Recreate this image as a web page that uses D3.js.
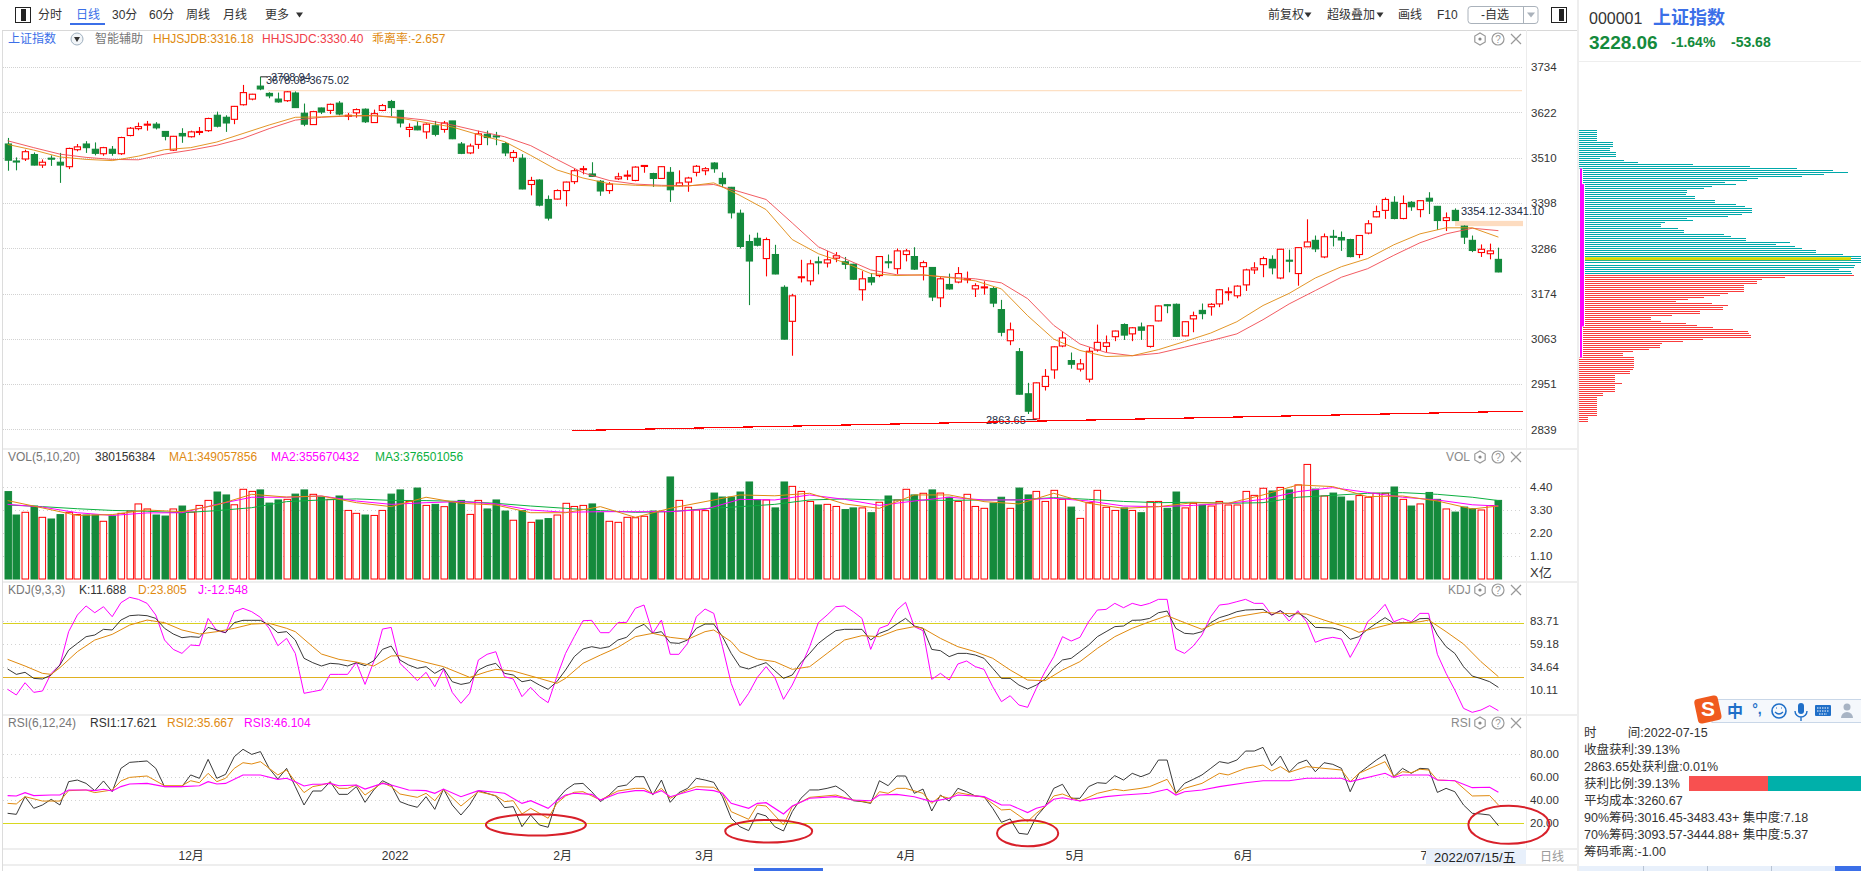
<!DOCTYPE html>
<html><head><meta charset="utf-8">
<script src="https://cdn.jsdelivr.net/npm/d3@7/dist/d3.min.js"></script>
<style>
html,body{margin:0;padding:0;background:#fff;overflow:hidden}
text{font-family:"Liberation Sans","Noto Sans CJK SC",sans-serif;white-space:pre}
</style></head><body><svg id="c" width="1861" height="871"></svg>
<script>
const opens=[3544,3502,3507,3518,3492,3509,3499,3488,3530,3544,3531,3520,3531,3520,3565,3582,3591,3593,3575,3529,3570,3562,3574,3577,3615,3610,3605,3641,3655,3687,3669,3655,3651,3670,3620,3592,3633,3627,3645,3614,3621,3630,3597,3627,3649,3627,3580,3588,3574,3589,3580,3601,3544,3522,3543,3568,3564,3545,3511,3509,3444,3455,3407,3408,3429,3451,3482,3470,3452,3429,3458,3466,3454,3490,3471,3459,3474,3441,3450,3474,3478,3497,3459,3437,3373,3303,3311,3261,3271,3190,3106,3215,3206,3253,3250,3262,3253,3247,3184,3214,3219,3253,3236,3271,3266,3241,3239,3164,3197,3203,3209,3186,3190,3187,3135,3058,3031,2927,2865,2945,2986,3045,3009,2988,2963,3035,3044,3068,3098,3075,3092,3044,3107,3147,3148,3070,3112,3133,3142,3149,3178,3169,3196,3233,3246,3259,3213,3257,3224,3290,3306,3265,3316,3313,3308,3271,3324,3364,3380,3400,3360,3400,3382,3410,3390,3355,3380,3341,3306,3276,3273,3259];
const closes=[3504,3501,3525,3492,3499,3507,3492,3533,3537,3535,3521,3535,3521,3560,3583,3587,3593,3584,3563,3563,3564,3574,3575,3607,3588,3596,3637,3671,3667,3680,3663,3648,3673,3634,3593,3624,3623,3642,3618,3615,3629,3599,3619,3639,3634,3596,3585,3579,3593,3568,3596,3557,3521,3539,3569,3560,3563,3522,3523,3433,3454,3393,3361,3429,3450,3478,3483,3464,3428,3445,3463,3467,3487,3491,3459,3488,3431,3448,3460,3489,3483,3483,3446,3374,3291,3255,3294,3308,3223,3062,3169,3216,3248,3252,3258,3268,3247,3210,3211,3203,3266,3252,3280,3280,3235,3251,3166,3211,3186,3224,3211,3194,3191,3151,3079,3085,2926,2884,2954,2970,3043,3065,3000,3001,3032,3054,3053,3082,3072,3090,3084,3095,3144,3146,3069,3105,3120,3125,3148,3184,3179,3193,3233,3238,3261,3238,3284,3256,3288,3302,3285,3315,3315,3307,3266,3318,3347,3377,3407,3360,3397,3389,3404,3403,3355,3362,3355,3314,3281,3284,3280,3228];
const highs=[3559,3511,3530,3523,3506,3516,3522,3535,3544,3551,3548,3537,3539,3562,3586,3597,3601,3598,3575,3564,3583,3577,3586,3609,3624,3615,3638,3690,3668,3710,3672,3671,3675,3674,3644,3626,3634,3644,3650,3621,3632,3632,3629,3643,3653,3628,3595,3600,3595,3601,3601,3601,3549,3545,3577,3577,3574,3549,3529,3519,3463,3457,3417,3432,3451,3483,3490,3499,3455,3450,3473,3479,3489,3491,3473,3489,3487,3479,3463,3492,3487,3499,3474,3438,3382,3320,3325,3313,3295,3195,3174,3258,3258,3266,3280,3277,3265,3248,3230,3225,3266,3271,3286,3285,3289,3256,3240,3215,3224,3240,3229,3200,3205,3191,3159,3103,3040,2954,2955,2988,3044,3081,3029,3013,3042,3098,3071,3083,3101,3092,3103,3096,3145,3148,3150,3106,3130,3150,3151,3186,3190,3195,3236,3252,3266,3269,3285,3283,3289,3358,3318,3323,3332,3328,3310,3318,3356,3392,3412,3415,3417,3403,3405,3425,3391,3375,3385,3343,3318,3296,3298,3288];
const lows=[3478,3479,3502,3491,3485,3490,3448,3482,3526,3522,3516,3515,3515,3517,3563,3578,3577,3580,3553,3527,3547,3560,3566,3574,3585,3574,3593,3639,3652,3677,3657,3646,3648,3633,3588,3591,3618,3618,3615,3603,3609,3596,3596,3625,3613,3585,3561,3578,3557,3563,3572,3556,3519,3519,3532,3541,3541,3514,3500,3432,3417,3390,3355,3407,3390,3445,3469,3463,3416,3421,3455,3455,3452,3473,3438,3458,3401,3440,3426,3464,3467,3473,3438,3360,3286,3146,3291,3217,3222,3061,3021,3202,3195,3222,3239,3252,3235,3209,3157,3195,3215,3237,3223,3254,3233,3207,3156,3141,3184,3200,3200,3166,3172,3141,3069,3047,2925,2877,2863,2935,2964,3042,2989,2982,2955,3031,3030,3057,3060,3057,3060,3041,3106,3126,3068,3069,3079,3111,3120,3141,3157,3163,3181,3223,3215,3222,3210,3227,3194,3290,3277,3262,3291,3280,3264,3262,3321,3363,3359,3358,3358,3379,3363,3371,3332,3329,3354,3297,3277,3265,3259,3227];
const hhjIndex=d3.range(0,172,3);
const hhjsjdb=[3543,3529,3512,3506,3503,3514,3530,3535,3549,3570,3591,3610,3611,3614,3614,3608,3597,3586,3567,3550,3516,3480,3460,3446,3442,3440,3440,3448,3417,3382,3308,3273,3251,3224,3219,3221,3214,3206,3186,3120,3062,3034,3019,3021,3036,3056,3077,3105,3145,3175,3213,3241,3261,3295,3322,3337,3337,3314];
const hhjsjdc=[3552,3535,3519,3511,3506,3505,3519,3529,3541,3558,3582,3603,3610,3613,3614,3610,3603,3591,3576,3562,3540,3506,3473,3454,3445,3442,3441,3444,3426,3407,3349,3290,3261,3233,3221,3220,3215,3211,3201,3162,3096,3050,3029,3021,3027,3042,3058,3075,3110,3149,3182,3215,3236,3269,3300,3322,3336,3330];
const priceTicks=[3734,3622,3510,3398,3286,3174,3063,2951,2839];
const volumes=[4.18,3.06,3.19,3.49,2.95,2.87,3.08,3.19,3.08,3.06,3.06,2.76,3.01,3.14,3.25,3.59,3.35,3.06,3.01,3.35,3.49,3.20,3.52,3.76,4.16,4.02,3.55,4.29,4.19,4.26,3.63,3.78,3.81,4.06,4.26,4.05,3.92,3.81,3.97,3.28,3.14,3.06,3.04,3.28,4.06,4.26,3.71,4.35,3.52,3.57,3.46,3.70,3.76,3.09,3.76,3.35,3.78,3.25,2.81,3.27,2.71,2.82,2.89,3.06,3.62,3.47,3.52,3.59,3.17,2.76,2.71,2.95,2.93,3.00,3.25,3.24,4.88,3.76,3.43,3.30,3.27,4.11,3.92,3.92,4.16,4.64,3.79,3.78,3.40,4.64,4.43,4.19,3.71,3.54,3.57,3.47,3.32,3.40,3.40,3.17,3.67,3.97,3.78,4.29,4.02,4.10,4.26,4.11,3.91,3.71,4.05,3.47,3.38,3.63,3.91,3.38,4.35,4.02,4.19,3.71,4.24,3.81,3.44,2.90,3.65,4.24,3.43,3.28,3.40,3.28,3.17,3.70,3.71,3.38,4.16,3.40,3.62,3.54,3.49,3.71,3.54,3.54,4.19,4.00,4.34,4.21,4.38,4.26,4.50,5.48,4.30,3.97,4.11,3.92,3.73,3.99,3.91,4.10,4.10,4.40,3.81,3.49,3.59,4.14,3.81,3.35,3.20,3.44,3.36,3.30,3.51,3.76];
const volMaIndex=[0,4,8,12,16,20,24,28,32,36,40,44,48,52,56,60,64,68,72,76,80,84,88,92,96,100,104,108,112,116,120,124,128,132,136,140,144,148,152,156,160,164,168,171];
const volMa1=[3.75,3.40,3.04,3.08,3.30,3.22,3.54,4.05,3.92,3.97,3.65,3.46,3.91,3.62,3.54,3.17,3.17,3.46,2.95,3.38,3.70,4.02,3.98,4.10,3.59,3.38,4.02,4.02,3.70,3.59,4.10,3.62,3.38,3.46,3.65,3.62,4.02,4.50,4.42,3.94,3.97,3.73,3.35,3.49];
const volMa2=[3.57,3.44,3.17,3.04,3.16,3.17,3.57,3.91,3.91,3.97,3.73,3.57,3.65,3.70,3.59,3.30,3.19,3.22,3.22,3.22,3.33,3.81,3.78,4.02,3.81,3.52,3.73,3.91,3.78,3.78,3.86,3.73,3.49,3.46,3.52,3.62,3.81,4.18,4.37,4.14,3.91,3.78,3.55,3.49];
const volMa3=[3.54,3.46,3.36,3.28,3.24,3.17,3.27,3.41,3.70,3.78,3.83,3.76,3.75,3.71,3.62,3.49,3.38,3.27,3.19,3.22,3.36,3.46,3.57,3.78,3.83,3.78,3.78,3.76,3.78,3.79,3.89,3.81,3.71,3.65,3.67,3.62,3.65,3.91,4.00,4.10,4.13,4.05,3.91,3.75];
const volTicks=[4.40,3.30,2.20,1.10];
const kdjK=[32.1,26.3,28.5,22.0,21.3,25.6,36.4,52.5,59.7,66.9,68.7,74.8,74.1,84.8,89.5,90.2,89.5,86.6,75.9,69.8,65.8,66.9,66.2,76.9,74.1,71.2,82.0,84.5,84.5,84.5,79.4,71.2,72.3,63.3,43.6,38.9,35.3,38.2,37.5,35.3,38.9,35.7,41.0,53.2,56.8,41.8,36.4,32.8,34.6,27.4,32.8,18.4,15.5,17.3,31.0,35.7,38.2,27.4,25.6,18.4,20.2,14.8,10.2,18.4,31.0,45.4,53.6,56.1,54.3,56.1,63.3,66.2,75.9,80.2,70.5,72.3,60.4,59.7,63.3,75.9,80.5,80.5,66.9,48.9,34.6,32.1,35.7,38.9,30.3,22.0,25.6,38.9,48.9,59.7,66.9,73.4,74.8,74.8,74.8,63.3,70.5,74.1,80.5,86.6,78.4,75.9,53.2,51.8,45.4,48.9,48.9,47.1,43.6,32.8,22.0,22.0,14.8,10.5,14.8,21.3,33.5,41.8,43.6,50.7,57.9,66.9,72.3,77.7,78.4,84.5,84.8,86.6,92.7,94.5,75.9,70.5,69.8,72.3,82.0,87.4,90.2,93.8,95.6,96.0,96.3,90.2,94.9,88.4,92.7,86.6,76.9,76.6,76.2,73.7,64.0,66.9,74.8,81.3,87.4,81.3,82.0,82.0,86.3,86.6,68.7,56.1,48.9,34.6,24.5,21.7,18.4,12.3];
const kdjJ=[10.2,4.1,17.3,6.9,8.4,27.4,36.4,72.3,90.2,100.0,92.7,99.2,88.4,103.5,109.3,107.1,102.8,90.2,63.3,53.2,48.9,57.9,57.2,86.6,73.4,71.2,93.8,97.4,93.8,87.7,75.9,57.2,65.1,48.9,5.9,7.7,9.5,26.3,26.3,26.3,39.2,15.5,40.0,75.1,76.9,38.2,29.2,19.5,28.5,13.0,31.7,6.9,-4.9,5.9,41.8,47.9,50.7,23.8,21.3,2.3,12.3,2.3,-4.2,23.8,48.9,66.9,84.1,84.5,71.2,71.2,82.0,82.3,97.4,101.0,70.5,84.8,47.9,47.9,59.7,88.4,96.7,92.0,56.1,16.6,-7.4,5.9,23.1,34.6,23.1,-0.6,14.8,34.6,56.1,82.0,90.2,99.2,100.0,93.8,86.6,53.2,75.9,79.4,95.6,103.9,77.7,73.4,20.9,27.4,20.2,37.5,40.7,34.6,31.7,13.0,-3.1,3.3,-6.7,-9.2,11.2,29.2,45.4,66.9,62.2,66.2,83.0,95.6,96.3,102.8,98.1,102.8,100.3,102.8,107.1,107.1,53.2,48.9,56.8,68.7,88.4,101.0,102.1,104.6,107.1,102.8,102.8,90.2,94.9,83.7,94.9,83.0,60.8,64.4,66.2,64.4,44.6,61.5,83.0,91.3,101.7,83.0,86.6,83.0,92.0,92.0,47.9,27.4,9.5,-10.3,-14.6,-12.1,-7.4,-12.8];
const kdjDIndex=[0,2,4,5,6,8,10,12,14,16,18,20,22,24,26,28,30,32,33,35,36,38,40,42,44,45,48,50,53,55,56,58,61,63,64,66,68,70,72,74,76,78,80,81,83,84,86,88,90,92,94,96,98,100,102,104,105,107,109,111,113,115,117,119,121,123,125,127,129,131,133,135,137,139,141,144,146,149,151,154,155,157,159,162,163,165,167,169,171];
const kdjD=[42.5,35.3,27.4,26.3,33.5,50.7,63.3,69.4,79.4,84.8,82.0,74.1,69.8,72.3,75.9,80.5,81.3,75.9,72.3,56.1,48.2,42.5,39.6,35.3,46.1,46.4,39.2,34.6,23.1,29.2,31.7,29.9,22.0,16.6,22.0,38.2,47.1,55.4,66.9,70.5,66.2,64.0,72.3,74.1,61.5,50.7,42.8,40.0,31.7,34.6,48.9,63.3,68.0,66.9,74.1,77.7,75.9,65.1,56.1,50.7,43.6,31.0,20.2,19.5,31.0,40.0,54.3,66.9,75.9,83.0,89.5,82.0,74.8,83.0,88.4,93.1,92.0,91.3,84.8,75.9,71.6,76.6,81.3,83.0,84.8,72.3,59.0,40.0,23.8];
const kdjTicks=[83.71,59.18,34.64,10.11];
const kdjMarks=[81.2,23.1];
const rsi1=[28.4,27.5,42.8,32.7,35.6,40.5,35.6,55.8,57.2,54.3,48.0,56.4,47.1,67.3,72.5,73.1,73.7,67.3,51.5,51.5,51.5,61.6,58.7,75.1,58.7,62.1,77.4,83.8,79.4,81.8,67.3,58.1,67.3,51.5,35.6,47.7,47.7,55.8,44.8,44.8,51.5,37.9,48.6,56.6,52.9,38.5,35.6,33.6,42.8,31.8,49.4,35.6,26.9,35.6,48.0,45.7,43.4,33.3,34.2,16.8,26.9,18.3,16.3,39.9,48.6,53.8,54.3,47.1,38.5,44.2,51.5,52.9,60.1,60.1,44.2,57.2,37.9,46.3,50.0,58.7,57.2,55.2,42.8,24.1,16.8,13.4,28.4,26.1,16.8,13.1,29.8,41.4,48.6,48.6,50.0,52.0,47.1,39.3,38.5,37.0,56.6,52.3,60.7,60.7,45.7,49.4,30.4,44.2,39.0,50.0,47.1,43.4,42.8,32.7,20.6,23.5,11.1,10.2,25.5,34.2,50.0,53.5,41.4,41.4,51.5,54.9,54.3,61.0,57.2,63.0,60.1,63.0,74.5,74.5,45.7,54.3,57.8,61.6,67.3,73.1,71.7,74.5,82.3,82.3,85.5,69.6,78.0,63.9,71.7,74.5,64.4,72.2,70.8,67.3,47.1,63.0,68.8,74.5,79.4,60.1,67.3,63.0,67.3,66.8,46.5,50.0,47.1,35.6,28.4,27.8,26.9,17.7];
const rsi2Index=[0,1,2,4,6,7,9,10,12,13,14,16,18,20,21,22,23,24,25,26,27,28,29,31,32,33,34,35,36,37,38,39,40,41,43,44,45,47,48,49,50,52,54,56,57,58,59,60,62,63,64,65,66,68,70,72,73,74,75,76,78,79,81,82,83,85,86,87,89,90,92,95,97,99,100,101,102,103,105,106,107,108,109,112,114,115,117,118,119,120,121,123,125,127,128,130,131,133,134,135,137,139,140,142,144,145,146,147,149,151,153,154,155,158,159,160,161,162,163,164,166,168,170,171];
const rsi2=[37.0,36.5,42.8,39.0,39.0,48.0,48.6,46.3,48.6,56.4,59.5,60.7,52.3,52.3,56.6,54.9,63.0,55.8,58.7,67.3,72.2,71.1,73.1,61.6,65.9,55.8,46.3,51.5,52.9,54.9,50.0,50.0,52.9,44.2,54.9,51.5,45.1,42.2,45.7,39.3,49.2,34.7,47.1,43.7,38.5,39.3,27.8,32.7,24.1,37.0,43.4,46.6,47.1,39.9,47.7,50.0,50.0,45.1,50.0,41.4,48.6,51.5,50.9,45.7,29.8,23.2,35.6,34.7,18.3,34.2,42.2,44.2,39.9,37.6,47.1,45.7,50.0,50.0,45.7,37.0,43.4,41.4,46.3,42.2,31.3,31.8,21.2,28.4,34.2,43.4,45.1,39.0,45.7,49.2,48.0,50.0,51.5,57.8,45.7,50.0,54.3,63.0,61.6,67.3,70.2,65.0,68.8,63.9,68.8,67.3,65.9,55.8,63.0,73.1,60.1,64.4,63.6,66.5,65.9,57.2,56.6,43.4,43.7,35.6];
const rsi3Index=[0,1,2,3,5,6,7,9,10,11,12,13,14,16,18,20,22,23,24,25,27,29,31,32,33,34,35,36,37,38,40,41,43,44,46,48,49,50,52,54,56,57,59,60,62,63,64,65,67,68,70,72,73,74,75,76,78,79,81,82,83,85,86,87,89,90,92,95,97,99,100,102,104,106,108,109,112,114,115,117,118,119,120,121,123,126,128,131,133,134,135,137,139,142,144,147,149,153,154,158,159,160,163,164,166,168,170,171];
const rsi3=[43.7,43.4,46.3,43.7,44.2,44.2,48.6,48.6,48.0,49.2,47.7,51.5,53.8,54.3,51.5,51.5,52.3,55.8,53.8,54.3,61.6,61.6,57.8,58.7,55.8,52.0,53.5,53.5,54.3,52.3,52.9,49.4,54.3,52.9,48.6,48.0,45.7,49.4,42.8,48.0,46.6,45.7,37.0,39.3,32.7,39.3,44.2,45.7,44.8,39.9,45.7,48.0,48.0,45.1,48.0,42.8,47.1,49.2,48.0,45.7,37.0,32.7,37.0,37.6,27.8,34.7,41.4,42.8,39.9,39.3,44.2,44.8,42.8,38.5,41.4,44.2,42.8,35.6,35.6,29.0,32.7,34.7,40.5,41.9,39.0,42.8,44.2,45.7,49.2,44.2,47.1,48.6,51.5,54.9,56.6,56.6,58.7,58.7,55.8,63.0,59.5,61.6,61.6,57.2,56.6,50.6,50.9,46.6];
const rsiTicks=[80,60,40,20];
const monthIndex=[21,44.4,63.6,79.9,103,122.4,141.7,162.4];
const monthLabels=["12月","2022","2月","3月","4月","5月","6月","7"];
const chipTeal=[18,18,18,18,18,18,34,34,34,31,31,37,37,37,21,45,59,114,171,218,254,269,245,223,179,168,146,157,133,125,108,108,107,116,116,136,136,157,166,173,173,173,163,149,108,114,86,82,82,99,105,105,145,152,167,167,211,197,216,223,237,237,264,282,282,282,282,276,275,260,272,273];
const chipRed=[275,206,183,178,178,165,165,165,165,149,141,125,109,97,133,149,144,144,121,121,93,72,72,82,107,118,134,154,169,170,172,172,124,104,83,81,81,70,54,44,44,55,55,55,55,55,55,54,51,51,36,36,36,36,43,36,36,36,36,24,24,18,18,18,18,18,18,18,18,18,18,9,9,9];
const chipTopPrice=3578, chipPriceStep=4.95;
const infoLines=["时         间:2022-07-15","收盘获利:39.13%","2863.65处获利盘:0.01%","获利比例:39.13%","平均成本:3260.67","90%筹码:3016.45-3483.43+ 集中度:7.18","70%筹码:3093.57-3444.88+ 集中度:5.37","筹码乖离:-1.00"];
const profitShare=0.4593;

const RED="#f00",GREEN="#148a3c",ORANGE="#e08a10",MAG="#ff00ff",BLUE="#3b6fe8",GRID="#d2d2d2";
const svg=d3.select("#c");
const n=closes.length;
const x=d3.scaleLinear().domain([0,171]).range([7.6,1498.4]);
const yP=d3.scaleLinear().domain([3734,2839]).range([67.1,429.4]);
const yV=d3.scaleLinear().domain([0,4.4]).range([579,487]);
const yK=d3.scaleLinear().domain([83.71,10.11]).range([621.07,689.4]);
const yR=d3.scaleLinear().domain([80,20]).range([753.7,823]);
const xChip=d3.scaleLinear().domain([0,282]).range([1579,1861]);

function txt(s,xp,yp,col,size,opt){opt=opt||{};
  return svg.append("text").attr("x",xp).attr("y",yp).attr("dy","0.35em").attr("fill",col).attr("font-size",size)
   .attr("font-weight",opt.w||null).attr("text-anchor",opt.a||"start").text(s);}
function hline(y1,x1,x2,col,w,dash){return svg.append("line").attr("x1",x1).attr("x2",x2).attr("y1",y1+.5).attr("y2",y1+.5)
  .attr("stroke",col).attr("stroke-width",w||1).attr("stroke-dasharray",dash||null).attr("shape-rendering","crispEdges");}
function vline(xp,y1,y2,col,w){return svg.append("line").attr("x1",xp).attr("x2",xp).attr("y1",y1).attr("y2",y2).attr("stroke",col).attr("stroke-width",w||1).attr("shape-rendering","crispEdges");}
function series(idx,vals,yS,col,w){
  const l=d3.line().x(d=>x(d[0])).y(d=>yS(d[1]));
  svg.append("path").attr("d",l(idx.map((d,i)=>[d,vals[i]]))).attr("fill","none").attr("stroke",col).attr("stroke-width",w||1);
}
function yAxis(scale,ticks,fmt,xp){
  const g=svg.append("g").attr("transform",`translate(${xp},0)`)
    .call(d3.axisRight(scale).tickValues(ticks).tickSize(0).tickPadding(0).tickFormat(fmt));
  g.select(".domain").remove();
  g.selectAll("text").attr("fill","#333").attr("font-size",11.5).attr("font-family",'"Liberation Sans",sans-serif');
}
function panelIcons(cy,label,lx){
  if(label) txt(label,lx,cy,"#8a8a8a",12);
  const hx=1480,qx=1498,cx=1516;
  const pts=d3.range(6).map(k=>[hx+6*Math.cos(Math.PI/6+k*Math.PI/3),cy+6*Math.sin(Math.PI/6+k*Math.PI/3)]);
  svg.append("polygon").attr("points",pts.join(" ")).attr("fill","none").attr("stroke","#999").attr("stroke-width",1.2);
  svg.append("circle").attr("cx",hx).attr("cy",cy).attr("r",1.6).attr("fill","#888");
  svg.append("circle").attr("cx",qx).attr("cy",cy).attr("r",6).attr("fill","none").attr("stroke","#999").attr("stroke-width",1.2);
  txt("?",qx,cy,"#999",10,{a:"middle"});
  svg.append("path").attr("d",`M${cx-5},${cy-5}L${cx+5},${cy+5}M${cx+5},${cy-5}L${cx-5},${cy+5}`).attr("stroke","#999").attr("stroke-width",1.2);
}

/* frame */
vline(2.5,30,871,"#dcdcdc",1);
hline(30,2,1578,"#d8d8d8",1.5);
[448,581,714,848,864].forEach(v=>hline(v,3,1578,"#eeeeee",2));
vline(1526.5,30,848,"#ececec",1.2);
vline(1578,0,871,"#eeeeee",2.5);
hline(61,1579,1861,"#eeeeee",1);

/* grids */
priceTicks.forEach(t=>hline(Math.round(yP(t)),3,1522,GRID,1,"1,1"));
volTicks.forEach(t=>hline(Math.round(yV(t)),3,1522,GRID,1,"1,3"));
kdjTicks.forEach(t=>hline(Math.round(yK(t)),3,1522,GRID,1,"1,3"));
rsiTicks.forEach(t=>hline(Math.round(yR(t)),3,1522,GRID,1,"1,3"));

/* toolbar */
function iconBox(x0,barX){svg.append("rect").attr("x",x0+.5).attr("y",7.5).attr("width",15).attr("height",15).attr("fill","#fff").attr("stroke","#222");
  svg.append("rect").attr("x",barX).attr("y",9).attr("width",5).attr("height",12).attr("fill","#222");}
iconBox(15,21); iconBox(1551,1559);
[["分时",38],["30分",112],["60分",149],["周线",186],["月线",223],["更多",265]].forEach(d=>txt(d[0],d[1],15,"#333",12));
txt("日线",76,15,BLUE,12);
svg.append("rect").attr("x",70).attr("y",23).attr("width",35).attr("height",2).attr("fill",BLUE);
function tri(cx,cy,w,col){svg.append("path").attr("d",`M${cx-w},${cy-2.5}L${cx+w},${cy-2.5}L${cx},${cy+2.5}Z`).attr("fill",col);}
tri(299.5,15,3.5,"#333");
txt("前复权",1268,15,"#333",12); tri(1308,15,3.5,"#333");
txt("超级叠加",1327,15,"#333",12); tri(1380,15,3.5,"#333");
txt("画线",1398,15,"#333",12); txt("F10",1437,15,"#333",12);
svg.append("rect").attr("x",1468).attr("y",6.5).attr("width",70).attr("height",17).attr("rx",3).attr("fill","#fff").attr("stroke","#aab2bb");
vline(1523,7,23,"#aab2bb",1); tri(1531,15,4,"#aab2bb");
txt("-自选",1481,15,"#333",12);

/* main titles */
txt("上证指数",8,39,BLUE,12);
svg.append("circle").attr("cx",77).attr("cy",39).attr("r",6).attr("fill","#f2f5f8").attr("stroke","#9fb0bf");
tri(77,39.5,3,"#333");
txt("智能辅助",95,39,"#777",12);
txt("HHJSJDB:3316.18",153,39,ORANGE,12);
txt("HHJSJDC:3330.40",262,39,"#f0404a",12);
txt("乖离率:-2.657",372,39,ORANGE,12);
panelIcons(39);
panelIcons(457,"VOL",1446);panelIcons(590,"KDJ",1448);panelIcons(723,"RSI",1451);

/* annotation bands */
svg.append("line").attr("x1",268).attr("x2",1522).attr("y1",yP(3676)).attr("y2",yP(3676)).attr("stroke","#fde0c4").attr("stroke-width",1.2);
svg.append("rect").attr("x",1455).attr("width",68).attr("y",yP(3354.12)).attr("height",yP(3341.10)-yP(3354.12)).attr("fill","#fddcc0");

/* candles */
const cw=6.2;
const cg=svg.append("g").selectAll("g").data(d3.range(n)).join("g");
cg.append("line").attr("x1",i=>Math.round(x(i))+.5).attr("x2",i=>Math.round(x(i))+.5)
  .attr("y1",i=>yP(highs[i])).attr("y2",i=>yP(lows[i]))
  .attr("stroke",i=>closes[i]>=opens[i]?RED:GREEN).attr("stroke-width",1.1);
cg.append("rect").attr("x",i=>Math.round(x(i))-2.7).attr("width",cw)
  .attr("y",i=>yP(Math.max(opens[i],closes[i])))
  .attr("height",i=>Math.max(1,Math.abs(yP(opens[i])-yP(closes[i]))))
  .attr("fill",i=>closes[i]>=opens[i]?"#fff":GREEN)
  .attr("stroke",i=>closes[i]>=opens[i]?RED:GREEN).attr("stroke-width",1.1);

series(hhjIndex,hhjsjdc,yP,"#f04a50",0.9);
series(hhjIndex,hhjsjdb,yP,ORANGE,0.9);

/* price labels */
const LBL="#1c2c44";
txt("3708.94",271,77,LBL,11);
txt("3678.08-3675.02",266,80,LBL,11);
svg.append("path").attr("d",`M${x(29)},${yP(3710)}H${x(29)+7}`).attr("stroke","#222").attr("fill","none");
txt("3354.12-3341.10",1461,211,LBL,11);
txt("2863.65",986,420,LBL,11);
svg.append("path").attr("d",`M${x(118)-10},${yP(2863)}H${x(118)}`).attr("stroke","#222").attr("fill","none");
/* support line */
svg.append("line").attr("x1",x(64.7)).attr("x2",x(173.8)).attr("y1",yP(2836)).attr("y2",yP(2884))
  .attr("stroke","#f00").attr("stroke-width",1.2).attr("shape-rendering","crispEdges");

yAxis(yP,priceTicks,d=>d,1531);

/* volume */
svg.append("g").selectAll("rect").data(d3.range(n)).join("rect")
  .attr("x",i=>Math.round(x(i))-3).attr("width",6.6)
  .attr("y",i=>yV(volumes[i])).attr("height",i=>yV(0)-yV(volumes[i]))
  .attr("fill",i=>closes[i]>=opens[i]?"#fff":GREEN)
  .attr("stroke",i=>closes[i]>=opens[i]?RED:GREEN).attr("stroke-width",1);
series(volMaIndex,volMa3,yV,"#0cb040",1);
series(volMaIndex,volMa2,yV,MAG,1);
series(volMaIndex,volMa1,yV,ORANGE,1);
yAxis(yV,volTicks,d=>d.toFixed(2),1530);
txt("X亿",1530,572,"#333",13);
txt("VOL(5,10,20)",8,457,"#777",12);txt("380156384",95,457,"#333",12);
txt("MA1:349057856",169,457,ORANGE,12);txt("MA2:355670432",271,457,MAG,12);txt("MA3:376501056",375,457,"#0cb040",12);

/* KDJ */
hline(Math.round(yK(kdjMarks[0])),3,1524,"#d8d020",1);
hline(Math.round(yK(kdjMarks[1])),3,1524,"#e0b020",1);
series(d3.range(n),kdjJ,yK,MAG,1);
series(d3.range(n),kdjK,yK,"#222",0.9);
series(kdjDIndex,kdjD,yK,ORANGE,1);
yAxis(yK,kdjTicks,d=>d.toFixed(2),1530);
txt("KDJ(9,3,3)",8,590,"#777",12);txt("K:11.688",79,590,"#333",12);
txt("D:23.805",138,590,ORANGE,12);txt("J:-12.548",198,590,MAG,12);

/* RSI */
hline(Math.round(yR(20)),3,1524,"#d8d820",1);
series(d3.range(n),rsi1,yR,"#222",0.9);
series(rsi2Index,rsi2,yR,ORANGE,1);
series(rsi3Index,rsi3,yR,MAG,1.1);
yAxis(yR,rsiTicks,d=>d.toFixed(2),1530);
txt("RSI(6,12,24)",8,723,"#777",12);txt("RSI1:17.621",90,723,"#333",12);
txt("RSI2:35.667",167,723,ORANGE,12);txt("RSI3:46.104",244,723,MAG,12);

/* hand-drawn circles */
const rings=[{i:60.6,v:18.4,rx:50,ry:10.7},{i:87.3,v:12.9,rx:43.5,ry:11.3},{i:117,v:11.1,rx:30.6,ry:13},{i:172.2,v:18.4,rx:40.5,ry:19}];
svg.append("g").selectAll("ellipse").data(rings).join("ellipse")
  .attr("cx",d=>x(d.i)).attr("cy",d=>yR(d.v)).attr("rx",d=>d.rx).attr("ry",d=>d.ry)
  .attr("fill","none").attr("stroke","#d8202a").attr("stroke-width",2);

/* date axis */
const ax=svg.append("g").attr("transform","translate(0,851)")
  .call(d3.axisBottom(x).tickValues(monthIndex).tickSize(0).tickPadding(0).tickFormat((d,i)=>monthLabels[i]));
ax.select(".domain").remove();
ax.selectAll("text").attr("fill","#333").attr("font-size",12).attr("font-family",'"Liberation Sans","Noto Sans CJK SC",sans-serif');
svg.append("rect").attr("x",1426).attr("y",849).attr("width",100).attr("height",15).attr("fill","#e8f0fb");
txt("2022/07/15/五",1434,857,"#222",13);
txt("日线",1540,857,"#999",12);
svg.append("rect").attr("x",754).attr("y",868).attr("width",69).attr("height",3).attr("fill",BLUE);

/* right panel head */
txt("000001",1589,18,"#333",16);
txt("上证指数",1653,18,BLUE,18,{w:"bold"});
txt("3228.06",1589,42,GREEN,19,{w:"bold"});
txt("-1.64%",1671,42,GREEN,14,{w:"bold"});
txt("-53.68",1731,42,GREEN,14,{w:"bold"});

/* chip distribution */
const chipY=i=>yP(chipTopPrice-i*chipPriceStep);
const chips=chipTeal.map((v,i)=>({v,c:"#00a8aa",r:i})).concat(chipRed.map((v,i)=>({v,c:"#f83c3c",r:i+chipTeal.length})));
svg.append("g").attr("shape-rendering","crispEdges").selectAll("rect").data(chips).join("rect")
  .attr("x",xChip(0)).attr("y",d=>Math.round(chipY(d.r))).attr("height",1)
  .attr("width",d=>xChip(d.v)-xChip(0)).attr("fill",d=>d.c);
function chipBand(p1,p2,x0,x1,col){svg.append("rect").attr("x",x0).attr("width",x1-x0).attr("y",yP(p1)).attr("height",yP(p2)-yP(p1)).attr("fill",col);}
chipBand(3483.43,3016.45,1579,1583,"#fff");
chipBand(3444.88,3093.57,1579,1585,"#fff");
chipBand(3483.43,3016.45,1580,1582,MAG);
chipBand(3444.88,3093.57,1582,1584,MAG);
svg.append("rect").attr("x",1585).attr("width",266).attr("y",yP(3260.67)-1.5).attr("height",3).attr("fill","#d8d800");

/* sogou bar */
svg.append("rect").attr("x",1712).attr("y",699.5).attr("width",150).attr("height",23).attr("fill","#f5f8fc").attr("stroke","#c9d7e8");
svg.append("rect").attr("x",1696).attr("y",697).attr("width",24).attr("height",25).attr("rx",4).attr("fill","#f05a1e").attr("transform","rotate(-12 1708 710)");
txt("S",1708,709,"#fff",21,{a:"middle",w:"bold"});
txt("中",1735,711,"#1f6fc8",16,{a:"middle",w:"bold"});
txt("°,",1757,709,"#1f6fc8",14,{a:"middle",w:"bold"});
svg.append("circle").attr("cx",1779).attr("cy",711).attr("r",7).attr("fill","none").attr("stroke","#1f6fc8").attr("stroke-width",1.6);
svg.append("path").attr("d","M1775,712q4,4 8,0M1776,708h1M1781,708h1").attr("fill","none").attr("stroke","#1f6fc8").attr("stroke-width",1.2);
svg.append("rect").attr("x",1798).attr("y",703).attr("width",6).attr("height",11).attr("rx",3).attr("fill","#1f6fc8");
svg.append("path").attr("d","M1795,711a6,6 0 0 0 12,0M1801,717v4").attr("fill","none").attr("stroke","#1f6fc8").attr("stroke-width",1.4);
svg.append("rect").attr("x",1815).attr("y",705).attr("width",16).attr("height",11).attr("rx",1).attr("fill","#1f6fc8");
svg.append("path").attr("d","M1817,708h12M1817,711h12M1819,714h8").attr("stroke","#fff").attr("stroke-width",1).attr("stroke-dasharray","1.5,1");
svg.append("circle").attr("cx",1847).attr("cy",707).attr("r",3.5).attr("fill","#a8b4c4");
svg.append("path").attr("d","M1841,718a6,6 0 0 1 12,0Z").attr("fill","#a8b4c4");

/* info block */
infoLines.forEach((s,i)=>txt(s,1584,733+i*17,"#333",12.5));
const xBar=d3.scaleLinear().domain([0,1]).range([1689,1861]);
svg.append("rect").attr("x",xBar(0)).attr("y",776).attr("width",xBar(profitShare)-xBar(0)).attr("height",15).attr("fill","#f85050");
svg.append("rect").attr("x",xBar(profitShare)).attr("y",776).attr("width",xBar(1)-xBar(profitShare)).attr("height",15).attr("fill","#00b0aa");

/* bottom tabs */
svg.append("rect").attr("x",1579).attr("y",866).attr("width",282).attr("height",5).attr("fill","#e8f0fb");
[1643,1707,1771].forEach(v=>vline(v,866,871,"#b8c4d4",1));
svg.append("rect").attr("x",1835).attr("y",866).attr("width",26).attr("height",5).attr("fill",BLUE);
</script></body></html>
